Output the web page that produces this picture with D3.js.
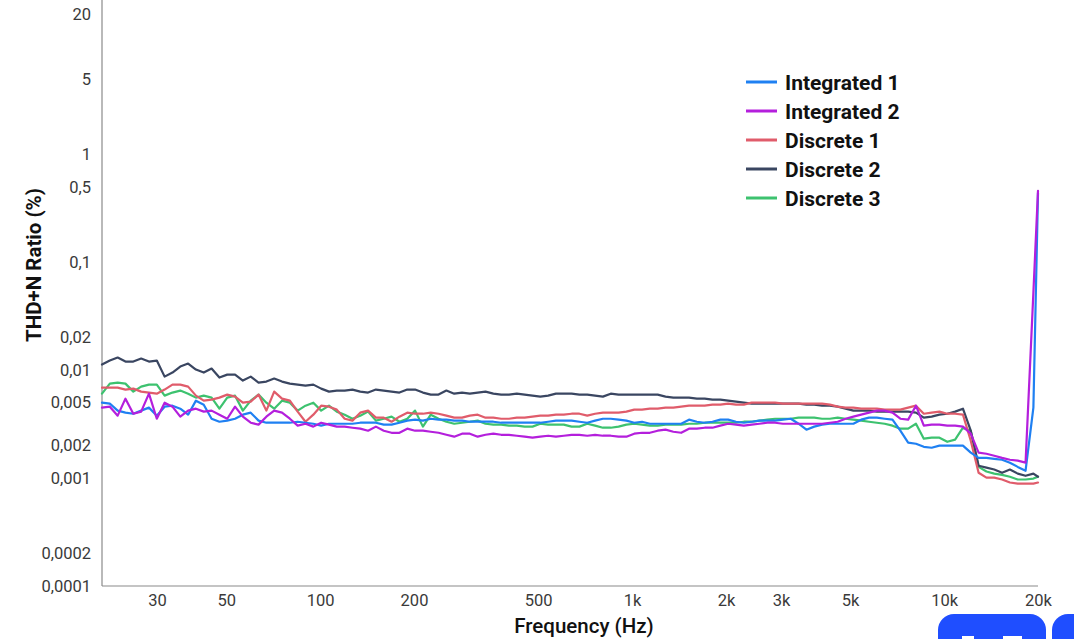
<!DOCTYPE html>
<html>
<head>
<meta charset="utf-8">
<script src="https://cdn.jsdelivr.net/npm/d3@7"></script>
<style>
  html, body { margin: 0; padding: 0; background: #ffffff; }
  svg { display: block; }
</style>
</head>
<body>
<svg id="chart" width="1074" height="639"></svg>
<script>
// 1/12-octave measurement frequencies (Hz)
const frequencies = [
  20, 21.19, 22.45, 23.78, 25.2, 26.7, 28.28, 29.97, 31.75, 33.64, 35.64, 37.76,
  40, 42.38, 44.9, 47.57, 50.4, 53.39, 56.57, 59.93, 63.5, 67.27, 71.27, 75.51,
  80, 84.76, 89.8, 95.14, 100.8, 106.8, 113.1, 119.9, 127, 134.5, 142.5, 151,
  160, 169.5, 179.6, 190.3, 201.6, 213.6, 226.3, 239.7, 254, 269.1, 285.1, 302,
  320, 339, 359.2, 380.6, 403.2, 427.1, 452.5, 479.5, 508, 538.2, 570.2, 604.1,
  640, 678, 718.4, 761.1, 806.3, 854.3, 905.1, 958.9, 1016, 1076, 1140, 1208,
  1280, 1356, 1437, 1522, 1613, 1709, 1810, 1918, 2032, 2153, 2281, 2416,
  2560, 2712, 2874, 3044, 3225, 3417, 3620, 3836, 4064, 4305, 4561, 4833,
  5120, 5424, 5747, 6089, 6451, 6834, 7241, 7671, 8127, 8611, 9123, 9665,
  10240, 10849, 11494, 12177, 12902, 13669, 14482, 15343, 16255, 17222, 18246, 19331,
  20000
];

// THD+N ratio in percent, one value per frequency
const integrated1 = [
  0.00500, 0.00490, 0.00422, 0.00404, 0.00395, 0.00422, 0.00450, 0.00379, 0.00459, 0.00469, 0.00440, 0.00387,
  0.00522, 0.00479, 0.00355, 0.00333, 0.00341, 0.00355, 0.00387, 0.00404, 0.00341, 0.00326, 0.00326, 0.00326,
  0.00326, 0.00333, 0.00326, 0.00319, 0.00306, 0.00319, 0.00319, 0.00319, 0.00319, 0.00326, 0.00326, 0.00326,
  0.00313, 0.00313, 0.00326, 0.00341, 0.00348, 0.00341, 0.00355, 0.00348, 0.00348, 0.00341, 0.00341, 0.00333,
  0.00333, 0.00333, 0.00333, 0.00326, 0.00326, 0.00326, 0.00326, 0.00326, 0.00326, 0.00333, 0.00341, 0.00341,
  0.00341, 0.00333, 0.00326, 0.00341, 0.00355, 0.00355, 0.00348, 0.00341, 0.00326, 0.00333, 0.00319, 0.00319,
  0.00319, 0.00319, 0.00319, 0.00348, 0.00333, 0.00326, 0.00333, 0.00348, 0.00348, 0.00333, 0.00326, 0.00333,
  0.00341, 0.00341, 0.00341, 0.00348, 0.00355, 0.00319, 0.00281, 0.00300, 0.00313, 0.00319, 0.00319, 0.00319,
  0.00319, 0.00348, 0.00363, 0.00363, 0.00355, 0.00348, 0.00275, 0.00213, 0.00208, 0.00195, 0.00191, 0.00200,
  0.00200, 0.00200, 0.00200, 0.00172, 0.00154, 0.00154, 0.00151, 0.00148, 0.00139, 0.00127, 0.00117, 0.00450,
  0.440
];

const integrated2 = [
  0.00450, 0.00459, 0.00379, 0.00545, 0.00395, 0.00413, 0.00606, 0.00355, 0.00500, 0.00459, 0.00371, 0.00422,
  0.00440, 0.00413, 0.00422, 0.00387, 0.00355, 0.00459, 0.00371, 0.00326, 0.00313, 0.00371, 0.00422, 0.00404,
  0.00355, 0.00306, 0.00319, 0.00300, 0.00326, 0.00313, 0.00300, 0.00300, 0.00293, 0.00287, 0.00275, 0.00300,
  0.00275, 0.00263, 0.00263, 0.00287, 0.00275, 0.00275, 0.00269, 0.00263, 0.00252, 0.00242, 0.00258, 0.00258,
  0.00242, 0.00252, 0.00258, 0.00252, 0.00252, 0.00247, 0.00242, 0.00237, 0.00242, 0.00247, 0.00242, 0.00247,
  0.00252, 0.00252, 0.00247, 0.00252, 0.00247, 0.00247, 0.00242, 0.00242, 0.00258, 0.00263, 0.00263, 0.00275,
  0.00281, 0.00269, 0.00263, 0.00287, 0.00287, 0.00293, 0.00293, 0.00306, 0.00319, 0.00313, 0.00306, 0.00313,
  0.00319, 0.00326, 0.00326, 0.00319, 0.00319, 0.00319, 0.00319, 0.00319, 0.00319, 0.00326, 0.00333, 0.00355,
  0.00371, 0.00387, 0.00404, 0.00422, 0.00422, 0.00404, 0.00355, 0.00348, 0.00469, 0.00306, 0.00313, 0.00313,
  0.00306, 0.00306, 0.00300, 0.00258, 0.00172, 0.00168, 0.00161, 0.00154, 0.00148, 0.00145, 0.00139, 0.0525,
  0.460
];

const discrete1 = [
  0.00689, 0.00689, 0.00689, 0.00661, 0.00675, 0.00633, 0.00620, 0.00606, 0.00661, 0.00735, 0.00735, 0.00704,
  0.00581, 0.00522, 0.00533, 0.00557, 0.00594, 0.00569, 0.00500, 0.00511, 0.00594, 0.00422, 0.00633, 0.00545,
  0.00522, 0.00413, 0.00333, 0.00387, 0.00469, 0.00459, 0.00431, 0.00355, 0.00341, 0.00404, 0.00422, 0.00363,
  0.00363, 0.00333, 0.00371, 0.00404, 0.00395, 0.00395, 0.00404, 0.00395, 0.00379, 0.00363, 0.00363, 0.00379,
  0.00387, 0.00363, 0.00363, 0.00355, 0.00355, 0.00363, 0.00363, 0.00371, 0.00379, 0.00379, 0.00387, 0.00387,
  0.00395, 0.00395, 0.00379, 0.00395, 0.00404, 0.00404, 0.00404, 0.00413, 0.00431, 0.00431, 0.00440, 0.00440,
  0.00450, 0.00450, 0.00459, 0.00469, 0.00469, 0.00469, 0.00479, 0.00479, 0.00490, 0.00479, 0.00479, 0.00500,
  0.00500, 0.00500, 0.00500, 0.00490, 0.00490, 0.00490, 0.00490, 0.00490, 0.00490, 0.00479, 0.00459, 0.00450,
  0.00450, 0.00440, 0.00440, 0.00440, 0.00431, 0.00431, 0.00431, 0.00450, 0.00469, 0.00395, 0.00404, 0.00413,
  0.00395, 0.00395, 0.00387, 0.00222, 0.00112, 0.00101, 0.00101, 0.00097, 0.00091, 0.00089, 0.00089, 0.00089,
  0.00091
];

const discrete2 = [
  0.01127, 0.01228, 0.01309, 0.01202, 0.01202, 0.01282, 0.01202, 0.01228, 0.00872, 0.00950, 0.01080, 0.01152,
  0.01013, 0.00950, 0.01035, 0.00854, 0.00910, 0.00910, 0.00801, 0.00872, 0.00767, 0.00784, 0.00836, 0.00784,
  0.00751, 0.00735, 0.00720, 0.00735, 0.00675, 0.00633, 0.00647, 0.00647, 0.00661, 0.00633, 0.00620, 0.00661,
  0.00647, 0.00633, 0.00620, 0.00661, 0.00661, 0.00620, 0.00594, 0.00594, 0.00647, 0.00606, 0.00620, 0.00606,
  0.00620, 0.00633, 0.00606, 0.00594, 0.00594, 0.00606, 0.00594, 0.00581, 0.00569, 0.00581, 0.00606, 0.00606,
  0.00606, 0.00594, 0.00594, 0.00581, 0.00569, 0.00606, 0.00594, 0.00594, 0.00594, 0.00594, 0.00594, 0.00594,
  0.00569, 0.00557, 0.00557, 0.00557, 0.00545, 0.00545, 0.00533, 0.00533, 0.00522, 0.00511, 0.00500, 0.00490,
  0.00490, 0.00490, 0.00490, 0.00490, 0.00490, 0.00490, 0.00479, 0.00479, 0.00469, 0.00469, 0.00459, 0.00440,
  0.00422, 0.00422, 0.00422, 0.00413, 0.00413, 0.00413, 0.00413, 0.00413, 0.00404, 0.00363, 0.00371, 0.00387,
  0.00395, 0.00413, 0.00440, 0.00275, 0.00130, 0.00125, 0.00120, 0.00112, 0.00120, 0.00110, 0.00105, 0.00110,
  0.00103
];

const discrete3 = [
  0.00606, 0.00751, 0.00767, 0.00751, 0.00633, 0.00704, 0.00735, 0.00735, 0.00581, 0.00620, 0.00647, 0.00606,
  0.00557, 0.00581, 0.00557, 0.00440, 0.00557, 0.00581, 0.00422, 0.00522, 0.00594, 0.00500, 0.00440, 0.00522,
  0.00500, 0.00422, 0.00469, 0.00500, 0.00422, 0.00469, 0.00413, 0.00387, 0.00355, 0.00379, 0.00413, 0.00341,
  0.00355, 0.00371, 0.00333, 0.00355, 0.00422, 0.00300, 0.00387, 0.00355, 0.00333, 0.00319, 0.00326, 0.00333,
  0.00341, 0.00319, 0.00313, 0.00313, 0.00306, 0.00306, 0.00300, 0.00300, 0.00319, 0.00313, 0.00313, 0.00313,
  0.00300, 0.00300, 0.00319, 0.00306, 0.00293, 0.00293, 0.00300, 0.00313, 0.00319, 0.00313, 0.00306, 0.00306,
  0.00313, 0.00313, 0.00313, 0.00319, 0.00319, 0.00326, 0.00326, 0.00326, 0.00326, 0.00326, 0.00333, 0.00333,
  0.00341, 0.00348, 0.00355, 0.00355, 0.00355, 0.00363, 0.00363, 0.00363, 0.00355, 0.00355, 0.00363, 0.00355,
  0.00348, 0.00341, 0.00333, 0.00326, 0.00319, 0.00306, 0.00287, 0.00287, 0.00319, 0.00232, 0.00237, 0.00237,
  0.00217, 0.00227, 0.00293, 0.00275, 0.00127, 0.00115, 0.00110, 0.00107, 0.00103, 0.00097, 0.00097, 0.00099,
  0.00103
];

const seriesNames = ["Integrated 1", "Integrated 2", "Discrete 1", "Discrete 2", "Discrete 3"];
const seriesColors = ["#1f80f2", "#b41fdc", "#e05c6b", "#3a4661", "#3dc26f"];
const seriesValues = [integrated1, integrated2, discrete1, discrete2, discrete3];

const xTickValues = [30, 50, 100, 200, 500, 1000, 2000, 3000, 5000, 10000, 20000];
const xTickLabels = ["30", "50", "100", "200", "500", "1k", "2k", "3k", "5k", "10k", "20k"];
const yTickValues = [20, 5, 1, 0.5, 0.1, 0.02, 0.01, 0.005, 0.002, 0.001, 0.0002, 0.0001];
const yTickLabels = ["20", "5", "1", "0,5", "0,1", "0,02", "0,01", "0,005", "0,002", "0,001", "0,0002", "0,0001"];

const svg = d3.select("#chart");
const plot = { left: 102, right: 1038, top: 0, bottom: 586 };

const x = d3.scaleLog().domain([20, 20000]).range([plot.left, plot.right]);
const y = d3.scaleLog().domain([0.0001, 20]).range([plot.bottom, 14]);

const tickFont = "Roboto, 'Noto Sans', sans-serif";

// Y axis
const yAxis = d3.axisLeft(y)
  .tickValues(yTickValues)
  .tickFormat((d, i) => yTickLabels[i])
  .tickSize(0)
  .tickPadding(11);
const gy = svg.append("g").attr("transform", `translate(${plot.left},0)`).call(yAxis);
gy.select(".domain").remove();
gy.selectAll("text")
  .attr("font-family", tickFont)
  .attr("font-size", 16.5)
  .attr("fill", "#3a3a3a");

// X axis
const xAxis = d3.axisBottom(x)
  .tickValues(xTickValues)
  .tickFormat((d, i) => xTickLabels[i])
  .tickSize(0)
  .tickPadding(8);
const gx = svg.append("g").attr("transform", `translate(0,${plot.bottom})`).call(xAxis);
gx.select(".domain").remove();
gx.selectAll("text")
  .attr("font-family", tickFont)
  .attr("font-size", 16.5)
  .attr("fill", "#3a3a3a");

// Axis lines
svg.append("line")
  .attr("x1", plot.left).attr("x2", plot.left)
  .attr("y1", plot.top).attr("y2", plot.bottom)
  .attr("stroke", "#8a8a8a").attr("stroke-width", 1.2);
svg.append("line")
  .attr("x1", plot.left).attr("x2", plot.right)
  .attr("y1", plot.bottom).attr("y2", plot.bottom)
  .attr("stroke", "#8a8a8a").attr("stroke-width", 1.2);

// Series lines
const line = d3.line()
  .x((d, i) => x(frequencies[i]))
  .y(d => y(d));

const drawOrder = [4, 3, 2, 0, 1];
svg.append("g").selectAll("path")
  .data(drawOrder)
  .join("path")
  .attr("d", k => line(seriesValues[k]))
  .attr("fill", "none")
  .attr("stroke", k => seriesColors[k])
  .attr("stroke-width", 2.2)
  .attr("stroke-linejoin", "round")
  .attr("stroke-linecap", "round");

// Legend
const titleFont = "Roboto, 'Noto Sans', sans-serif";
const legend = svg.append("g").attr("transform", "translate(746,82)");
const rows = legend.selectAll("g")
  .data(seriesNames)
  .join("g")
  .attr("transform", (d, i) => `translate(0,${i * 29})`);
rows.append("line")
  .attr("x1", 0).attr("x2", 31)
  .attr("y1", 0).attr("y2", 0)
  .attr("stroke", (d, i) => seriesColors[i])
  .attr("stroke-width", 3);
rows.append("text")
  .attr("x", 39)
  .attr("y", 0)
  .attr("dy", "0.36em")
  .attr("font-family", titleFont)
  .attr("font-weight", 700)
  .attr("font-size", 21)
  .attr("fill", "#111")
  .text(d => d);

// Axis titles
svg.append("text")
  .attr("x", 584)
  .attr("y", 633)
  .attr("text-anchor", "middle")
  .attr("font-family", titleFont)
  .attr("font-weight", 500)
  .attr("font-size", 20.5)
  .attr("fill", "#111")
  .text("Frequency (Hz)");

svg.append("text")
  .attr("transform", "translate(41,265) rotate(-90)")
  .attr("text-anchor", "middle")
  .attr("font-family", titleFont)
  .attr("font-weight", 700)
  .attr("font-size", 20.5)
  .attr("fill", "#111")
  .text("THD+N Ratio (%)");

// Badge shapes in the lower right corner
const badge = svg.append("g");
badge.append("rect")
  .attr("x", 938).attr("y", 614)
  .attr("width", 108).attr("height", 60)
  .attr("rx", 16)
  .attr("fill", "#1f4eff");
badge.append("rect")
  .attr("x", 1052).attr("y", 614)
  .attr("width", 60).attr("height", 60)
  .attr("rx", 16)
  .attr("fill", "#1f4eff");
badge.append("rect")
  .attr("x", 962).attr("y", 636)
  .attr("width", 12).attr("height", 6)
  .attr("fill", "#ffffff");
badge.append("rect")
  .attr("x", 1003).attr("y", 636)
  .attr("width", 19).attr("height", 6)
  .attr("fill", "#ffffff");
</script>
</body>
</html>
